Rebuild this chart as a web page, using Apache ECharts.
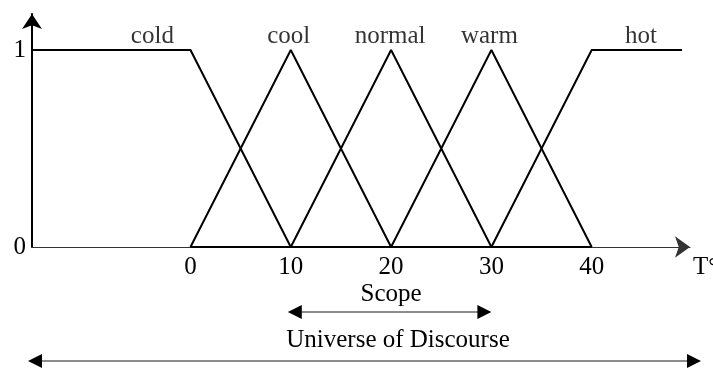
<!DOCTYPE html>
<html>
<head>
<meta charset="utf-8">
<script src="https://cdn.jsdelivr.net/npm/echarts@6/dist/echarts.min.js"></script>
<style>
  html, body { margin: 0; padding: 0; background: #fff; }
  #chart { width: 713px; height: 370px; }
</style>
</head>
<body>
<div id="chart"></div>
<script>
  // membership functions, x in degrees, y in [0, 1]
  const setNames = ['cold', 'cool', 'normal', 'warm', 'hot']
  const cold = [[-15.8, 1], [0, 1], [10, 0]]
  const cool = [[0, 0], [10, 1], [20, 0]]
  const normal = [[10, 0], [20, 1], [30, 0]]
  const warm = [[20, 0], [30, 1], [40, 0]]
  const hot = [[30, 0], [40, 1], [49, 1]]
  const base = [[0, 0], [40, 0]]
  const labelX = [-3.8, 9.8, 19.9, 29.8, 44.9]
  const xTicks = [0, 10, 20, 30, 40]
  const yTicks = [0, 1]
  const scope = [10, 30]

  const font = '"Liberation Serif", "DejaVu Serif", serif'
  const fontSize = 25
  const chart = echarts.init(document.getElementById('chart'))

  const lineSeries = (name, data) => ({
    name: name,
    type: 'line',
    data: data,
    symbol: 'none',
    silent: true,
    lineStyle: { color: '#000', width: 2 }
  })

  chart.setOption({
    animation: false,
    grid: { left: 32, right: 23, top: 14, bottom: 123 },
    xAxis: {
      type: 'value',
      min: -15.8,
      max: 49.8,
      splitLine: { show: false },
      axisLine: {
        onZero: false,
        symbol: ['none', 'arrow'],
        symbolSize: [16, 15],
        lineStyle: { color: '#333', width: 1 }
      },
      axisTick: { show: false },
      axisLabel: {
        customValues: xTicks,
        color: '#000',
        fontFamily: font,
        fontSize: fontSize,
        margin: 8
      }
    },
    yAxis: {
      type: 'value',
      min: 0,
      max: 1.183,
      splitLine: { show: false },
      axisLine: {
        onZero: false,
        symbol: ['none', 'arrow'],
        symbolSize: [15, 15],
        lineStyle: { color: '#000', width: 2 }
      },
      axisTick: { show: false },
      axisLabel: {
        customValues: yTicks,
        color: '#000',
        fontFamily: font,
        fontSize: fontSize,
        margin: 6
      }
    },
    series: [
      lineSeries('cold', cold),
      lineSeries('cool', cool),
      lineSeries('normal', normal),
      lineSeries('warm', warm),
      lineSeries('hot', hot),
      lineSeries('base', base),
      {
        type: 'scatter',
        silent: true,
        symbolSize: 0,
        data: labelX.map((x, i) => ({ value: [x, 1], name: setNames[i] })),
        label: {
          show: true,
          position: 'top',
          distance: 1,
          formatter: p => p.name,
          color: '#000',
          fontFamily: font,
          fontSize: fontSize
        }
      }
    ]
  })

  // scope / universe arrows under the axis
  const p1 = chart.convertToPixel({ gridIndex: 0 }, [scope[0], 0])
  const p2 = chart.convertToPixel({ gridIndex: 0 }, [scope[1], 0])

  const arrow = (x1, x2, y) => [
    { type: 'line', shape: { x1: x1 + 10, y1: y, x2: x2 - 10, y2: y }, style: { stroke: '#666', lineWidth: 1.5 } },
    { type: 'polygon', shape: { points: [[x1, y], [x1 + 14, y - 7], [x1 + 14, y + 7]] }, style: { fill: '#000' } },
    { type: 'polygon', shape: { points: [[x2, y], [x2 - 14, y - 7], [x2 - 14, y + 7]] }, style: { fill: '#000' } }
  ]

  const textStyle = { fill: '#000', font: fontSize + 'px ' + font }

  chart.setOption({
    graphic: [
      ...arrow(p1[0] - 3, p2[0], 312),
      ...arrow(28, 701, 361),
      { type: 'text', x: (p1[0] + p2[0]) / 2, y: 307, style: Object.assign({ text: 'Scope', align: 'center', verticalAlign: 'bottom' }, textStyle) },
      { type: 'text', x: 398, y: 353, style: Object.assign({ text: 'Universe of Discourse', align: 'center', verticalAlign: 'bottom' }, textStyle) },
      { type: 'text', x: 693, y: 255, style: Object.assign({ text: 'T°', align: 'left', verticalAlign: 'top' }, textStyle) }
    ]
  })
</script>
</body>
</html>
